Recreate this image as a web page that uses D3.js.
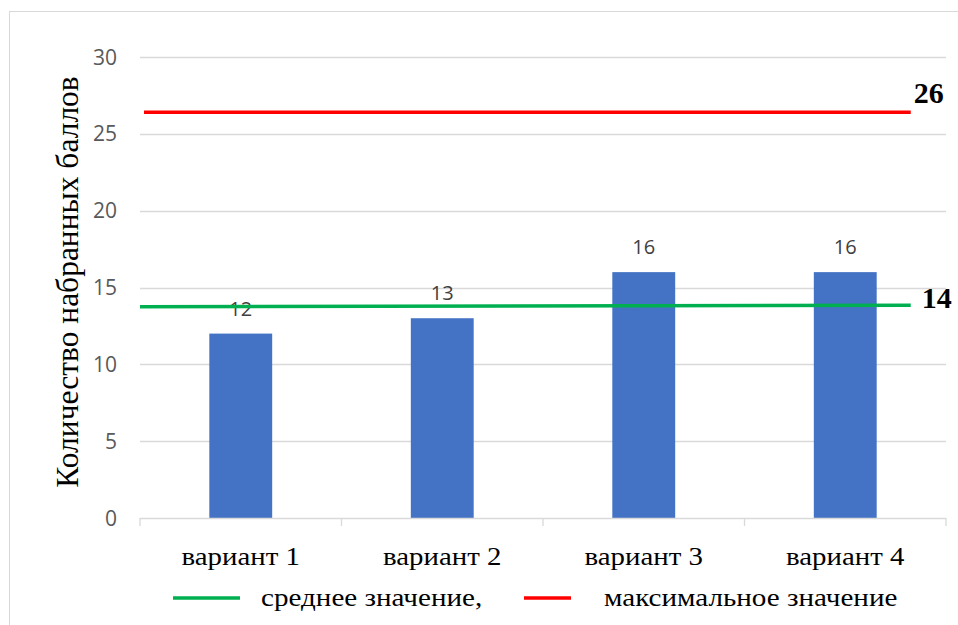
<!DOCTYPE html>
<html>
<head>
<meta charset="utf-8">
<script src="https://cdn.jsdelivr.net/npm/d3@7"></script>
<style>
  body { margin: 0; background: #fff; }
  svg { display: block; }
</style>
</head>
<body>
<svg id="chart" width="958" height="625"></svg>
<script>
// ---- data ----
const categories = ["вариант 1", "вариант 2", "вариант 3", "вариант 4"];
const values = [12, 13, 16, 16];
const yTicks = [0, 5, 10, 15, 20, 25, 30];
const meanLine = [13.75, 13.85];   // start, end value of mean line
const maxLine = [26.4, 26.4];      // start, end value of max line
const meanLabel = "14";
const maxLabel = "26";
const legendItems = ["среднее значение,", "максимальное значение"];
const yTitle = "Количество набранных баллов";

// ---- layout ----
const svg = d3.select("#chart");
const plot = { left: 140, right: 946, top: 57, bottom: 518 };
const serif = "'Liberation Serif', 'Times New Roman', serif";
const sans = "'Open Sans', sans-serif";
const stretch = 1.11;

svg.append("rect")
  .attr("x", 9.5).attr("y", 11.5)
  .attr("width", 1000).attr("height", 1000)
  .attr("fill", "#fff").attr("stroke", "#d9d9d9").attr("stroke-width", 1);

const x = d3.scaleBand().domain(categories).range([plot.left, plot.right]).padding(0);
const y = d3.scaleLinear().domain([0, 30]).range([plot.bottom, plot.top]);

// gridlines
svg.append("g").selectAll("line").data(yTicks.filter(d => d > 0)).join("line")
  .attr("x1", plot.left).attr("x2", plot.right)
  .attr("y1", d => Math.round(y(d)) + 0.5).attr("y2", d => Math.round(y(d)) + 0.5)
  .attr("stroke", "#d9d9d9").attr("stroke-width", 1.3);

// y tick labels
svg.append("g").selectAll("text").data(yTicks).join("text")
  .attr("x", 117).attr("y", d => y(d)).attr("dy", "0.36em")
  .attr("text-anchor", "end")
  .attr("font-family", sans).attr("font-size", 21)
  .attr("fill", "#595959")
  .text(d => d);

// bars
const barW = x.bandwidth() * 0.312;
svg.append("g").selectAll("rect").data(values).join("rect")
  .attr("x", (d, i) => x(categories[i]) + x.bandwidth() / 2 - barW / 2)
  .attr("y", d => y(d))
  .attr("width", barW)
  .attr("height", d => y(0) - y(d))
  .attr("fill", "#4472C4");

// bar labels
svg.append("g").selectAll("text").data(values).join("text")
  .attr("x", (d, i) => x(categories[i]) + x.bandwidth() / 2)
  .attr("y", d => y(d) - 18)
  .attr("text-anchor", "middle")
  .attr("font-family", sans).attr("font-size", 20)
  .attr("fill", "#404040")
  .text(d => d);

// x axis line and ticks
const xAxis = svg.append("g");
xAxis.append("line")
  .attr("x1", plot.left).attr("x2", plot.right)
  .attr("y1", plot.bottom + 0.5).attr("y2", plot.bottom + 0.5)
  .attr("stroke", "#d9d9d9").attr("stroke-width", 1.3);
const bounds = categories.map(c => x(c)).concat([plot.right]);
xAxis.selectAll("line.tick").data(bounds).join("line")
  .attr("class", "tick")
  .attr("x1", d => d).attr("x2", d => d)
  .attr("y1", plot.bottom).attr("y2", plot.bottom + 8)
  .attr("stroke", "#d9d9d9").attr("stroke-width", 1.3);

// x labels
svg.append("g").selectAll("text").data(categories).join("text")
  .attr("transform", d => `translate(${x(d) + x.bandwidth() / 2},565) scale(${stretch},1)`)
  .attr("text-anchor", "middle")
  .attr("font-family", serif).attr("font-size", 26)
  .attr("fill", "#000")
  .text(d => d);

// reference lines
const step = x.step();
const lastCenter = x(categories[categories.length - 1]) + x.bandwidth() / 2;
const lineEnd = lastCenter + step * 0.325;
svg.append("line")
  .attr("x1", plot.left + 4).attr("x2", lineEnd)
  .attr("y1", y(maxLine[0])).attr("y2", y(maxLine[1]))
  .attr("stroke", "#FF0000").attr("stroke-width", 3.5);
svg.append("line")
  .attr("x1", plot.left).attr("x2", lineEnd)
  .attr("y1", y(meanLine[0])).attr("y2", y(meanLine[1]))
  .attr("stroke", "#00B050").attr("stroke-width", 3.5);

// reference labels
svg.append("text")
  .attr("x", lineEnd + 3).attr("y", y(maxLine[1]) - 9)
  .attr("font-family", serif)
  .attr("font-size", 30).attr("font-weight", "bold")
  .text(maxLabel);
svg.append("text")
  .attr("x", lineEnd + 11).attr("y", y(meanLine[1]) + 3)
  .attr("font-family", serif)
  .attr("font-size", 30).attr("font-weight", "bold")
  .text(meanLabel);

// y axis title
svg.append("text")
  .attr("transform", "translate(78,282) rotate(-90)")
  .attr("text-anchor", "middle")
  .attr("font-family", serif)
  .attr("font-size", 31.5)
  .attr("fill", "#000")
  .text(yTitle);

// legend
const legendColors = ["#00B050", "#FF0000"];
const legendLineX = [[173, 240], [524, 571]];
const legendTextX = [261, 604];
const lg = svg.append("g");
legendItems.forEach((t, i) => {
  lg.append("line")
    .attr("x1", legendLineX[i][0]).attr("x2", legendLineX[i][1])
    .attr("y1", 598).attr("y2", 598)
    .attr("stroke", legendColors[i]).attr("stroke-width", 3.5);
  lg.append("text")
    .attr("transform", `translate(${legendTextX[i]},606) scale(${stretch + 0.01},1)`)
    .attr("font-family", serif)
    .attr("font-size", 26)
    .attr("fill", "#000")
    .text(t);
});
</script>
</body>
</html>
